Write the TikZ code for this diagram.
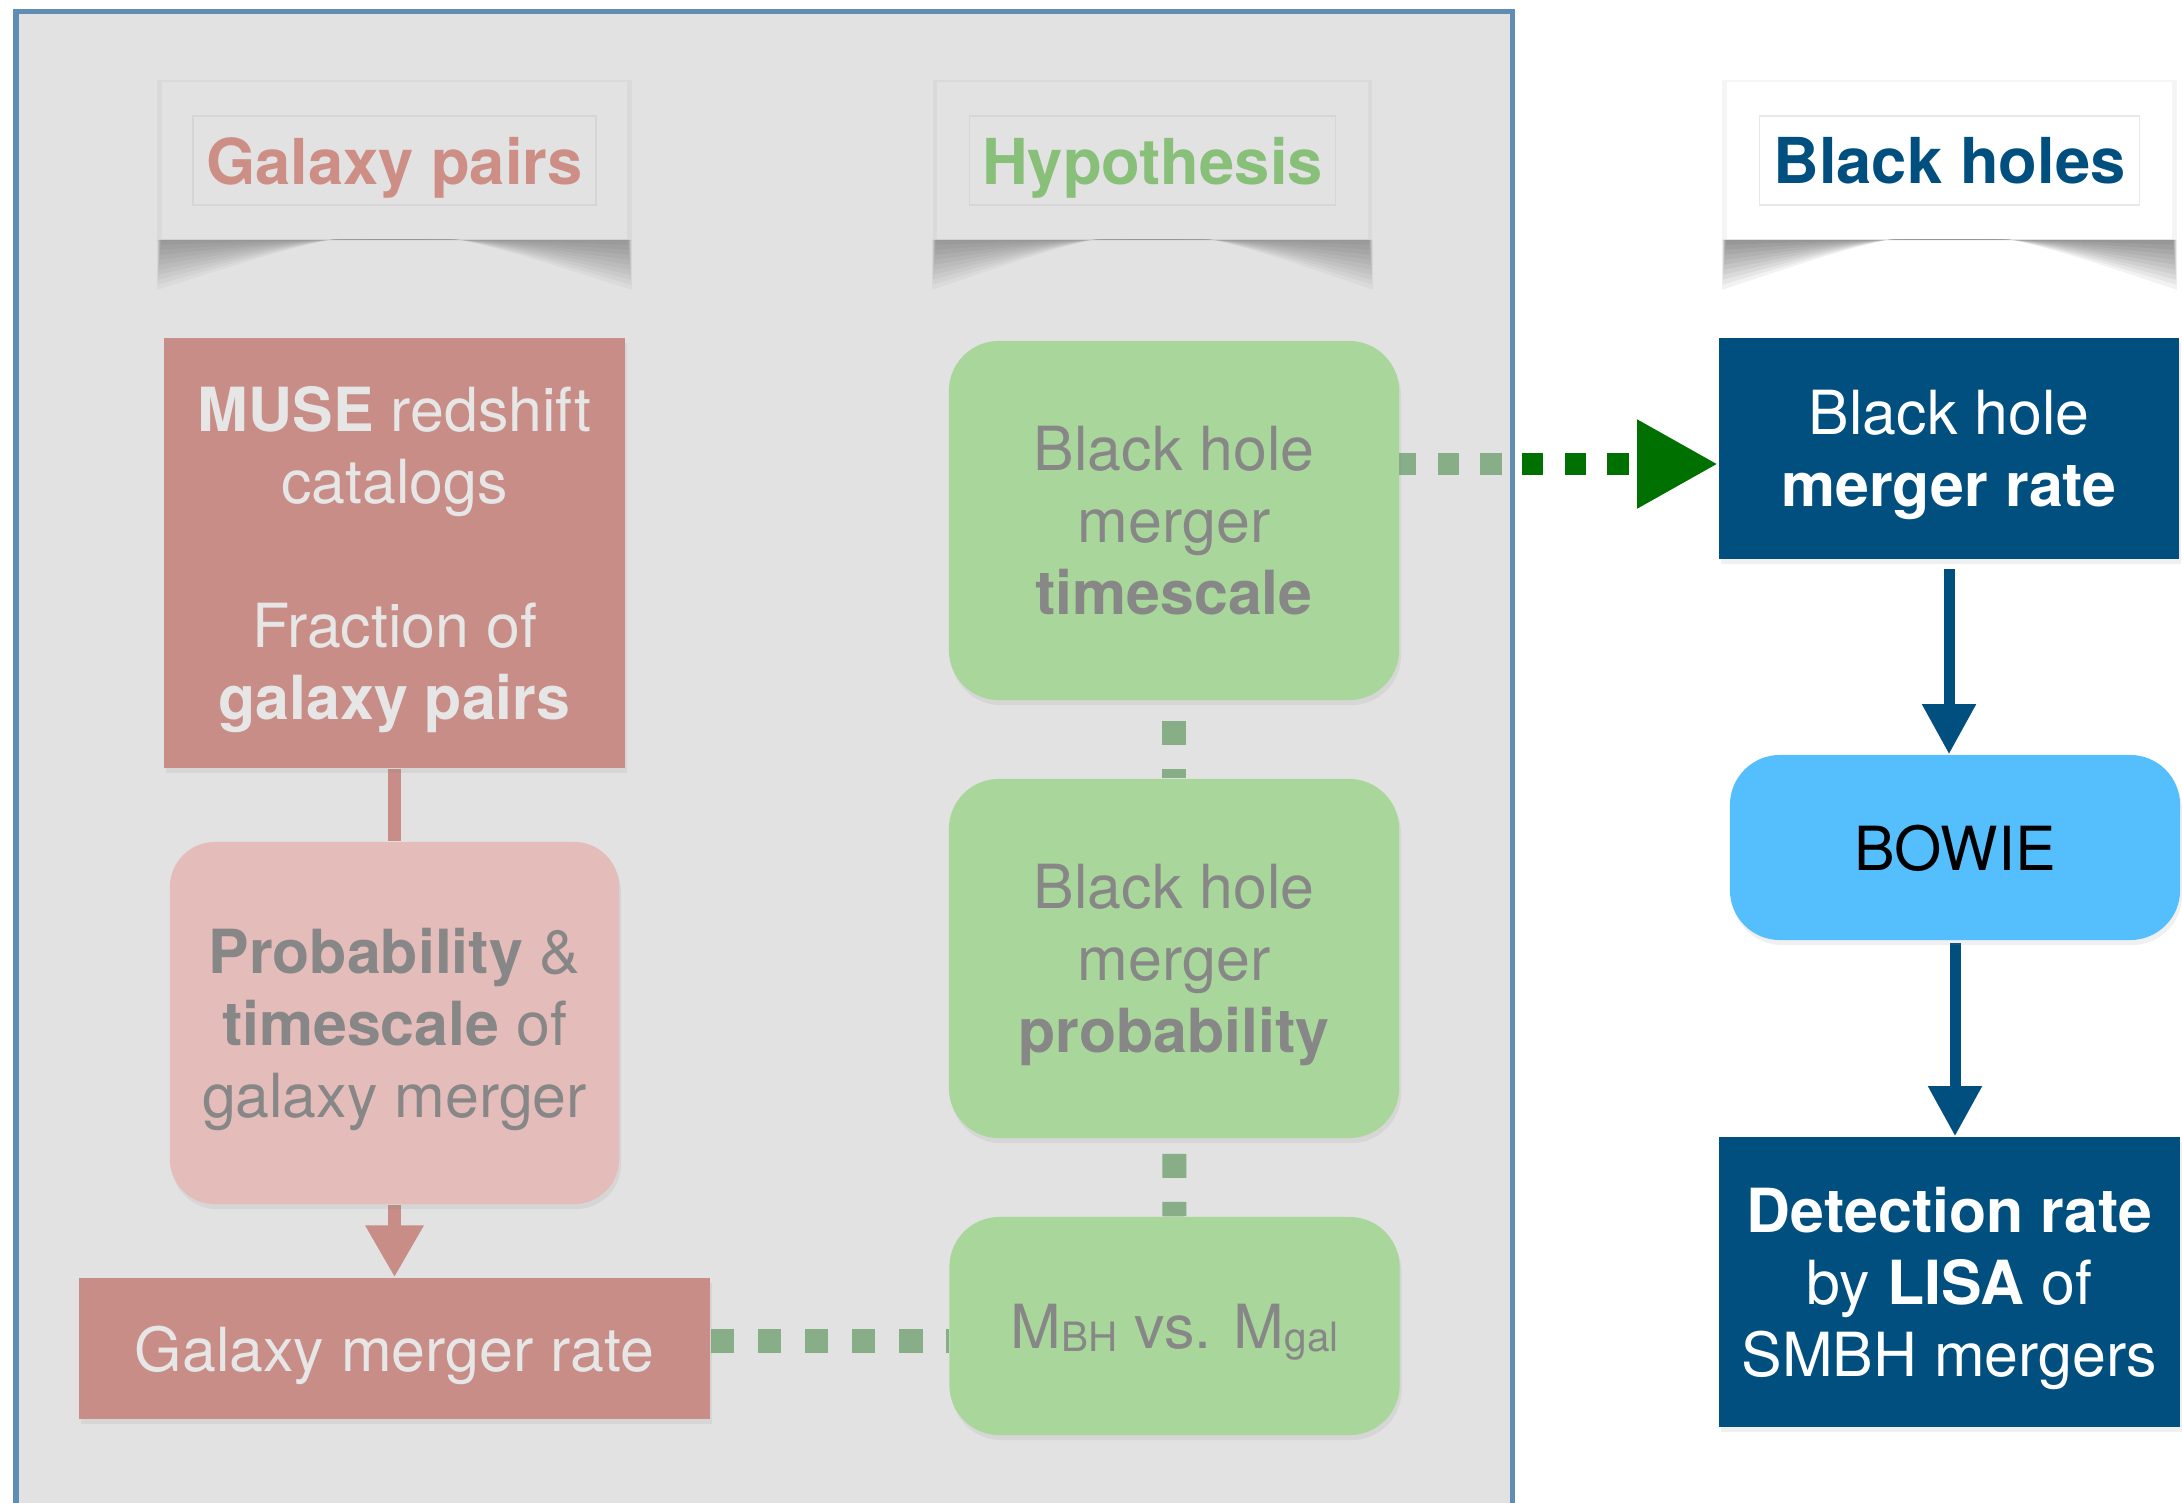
\documentclass[tikz,border=0pt]{standalone}
\usepackage{fontspec}
\setmainfont{TeX Gyre Heros}
\usetikzlibrary{positioning, arrows.meta, calc, shadows}

\definecolor{panelbg}{HTML}{E2E2E2}
\definecolor{panelrim}{HTML}{5F8DB3}
\definecolor{galred}{HTML}{C88D86}
\definecolor{galpink}{HTML}{E4BCBA}
\definecolor{galtitle}{HTML}{CD8E86}
\definecolor{hypgreen}{HTML}{A9D69A}
\definecolor{hyptitle}{HTML}{88BF79}
\definecolor{hypdot}{HTML}{87AE87}
\definecolor{darkgreen}{HTML}{007000}
\definecolor{bhblue}{HTML}{014F7F}
\definecolor{bowieblue}{HTML}{55BFFE}
\definecolor{fadetext}{HTML}{878787}
\definecolor{lighttext}{HTML}{E6E6E6}

\pgfdeclarelayer{back}
\pgfdeclarelayer{mid}
\pgfsetlayers{back,mid,main}

\newcommand{\bodyfont}{\fontsize{17.3}{20.5}\selectfont}
\newcommand{\headfont}{\fontsize{18}{22}\selectfont\bfseries}
\newcommand{\lowsub}[1]{\raisebox{-0.06em}{\fontsize{11.5}{12}\selectfont #1}}

\begin{document}
\begin{tikzpicture}[x=0.01cm, y=-0.01cm]
	% Define styles
	\tikzset{
		plate/.style={rectangle, inner sep=0pt, minimum height=1.57cm, fill=panelbg, drop shadow={shadow xshift=0pt, shadow yshift=0pt, shadow scale=1.02, opacity=0.08}},
		head/.style={rectangle, line width=0.015cm, inner sep=0pt, minimum height=0.89cm, font=\headfont, text depth=0pt},
		box/.style={rectangle, inner sep=0pt, align=center, font=\bodyfont, text depth=0pt, drop shadow={opacity=0.12, shadow xshift=0.02cm, shadow yshift=-0.05cm}},
		galbox/.style={box, fill=galred, text=lighttext},
		galround/.style={box, fill=galpink, text=fadetext, rounded corners=0.45cm},
		hypbox/.style={box, fill=hypgreen, text=fadetext, rounded corners=0.5cm, minimum width=4.5cm},
		bhbox/.style={box, fill=bhblue, text=white},
		bowiebox/.style={box, fill=bowieblue, text=black, rounded corners=0.5cm},
		galline/.style={draw=galred, line width=0.135cm},
		hypdots/.style={draw=hypdot, line width=0.24cm, dash pattern=on 0.24cm off 0.24cm},
		topdots/.style={line width=0.213cm, dash pattern=on 0.213cm off 0.214cm},
		bhline/.style={draw=bhblue, line width=0.11cm}
	}
	\useasboundingbox (0,0) rectangle (2182,1502);

	% Panel
	\begin{pgfonlayer}{back}
		\fill[panelbg] (16,11) rectangle (1512,1520);
		\draw[panelrim, line width=0.05cm] (16,1520) -- (16,11) -- (1512,11) -- (1512,1520);
	\end{pgfonlayer}

	% Headers
	\node[plate, minimum width=4.65cm] (galplate) at (394.5,160.5) {};
	\node[head, draw=black!16, text=galtitle, minimum width=4.03cm] (galhead) at (galplate) {Galaxy pairs};
	\node[plate, minimum width=4.31cm] (hypplate) at (1152.5,160.5) {};
	\node[head, draw=black!16, text=hyptitle, minimum width=3.66cm] (hyphead) at (hypplate) {Hypothesis};
	\node[plate, fill=white, minimum width=4.45cm] (bhplate) at (1949.5,160.5) {};
	\node[head, draw=black!9, text=bhblue, minimum width=3.8cm] (bhhead) at (bhplate) {Black holes};

	% Galaxy column
	\node[galbox, minimum width=4.61cm, minimum height=4.3cm] (muse) at (394.5,553) {\textbf{MUSE} redshift\\catalogs\\[20.5pt]Fraction of\\\textbf{galaxy pairs}};
	\node[galround, minimum width=4.49cm, minimum height=3.62cm] (galprob) at (394.5,1023) {\textbf{Probability} \&\\\textbf{timescale} of\\galaxy merger};
	\node[galbox, minimum width=6.31cm, minimum height=1.41cm] (galrate) at (394.5,1348.5) {Galaxy merger rate};

	% Hypothesis column
	\node[hypbox, minimum height=3.59cm] (bhtime) at (1174,520.5) {Black hole\\merger\\\textbf{timescale}};
	\node[hypbox, minimum height=3.59cm] (bhprob) at (1174,958.5) {Black hole\\merger\\\textbf{probability}};
	\node[hypbox, minimum height=2.18cm] (mbh) at (1174.5,1326) {M\lowsub{BH} vs. M\lowsub{gal}};

	% Black hole column
	\node[bhbox, minimum width=4.6cm, minimum height=2.21cm] (bhrate) at (1949,448.5) {Black hole\\\textbf{merger rate}};
	\node[bowiebox, minimum width=4.5cm, minimum height=1.85cm] (bowie) at (1955,847.5) {BOWIE};
	\node[bhbox, minimum width=4.61cm, minimum height=2.9cm] (detect) at (1949.5,1282) {\textbf{Detection rate}\\by \textbf{LISA} of\\SMBH mergers};

	\coordinate (cross) at (1512,464);

	% Shadows and arrows
	\begin{pgfonlayer}{mid}
		\foreach \p/\op in {galplate/0.035, hypplate/0.035, bhplate/0.05}
			\foreach \i in {1,...,10}
				\fill[black, opacity=\op]
					($(\p.south west)+(-0.4*\i,0)$) -- ($(\p.south west)+(-0.4*\i,5*\i)$)
					.. controls ($(\p.south)+(0,-2.6*\i)$) .. ($(\p.south east)+(0.4*\i,5*\i)$)
					-- ($(\p.south east)+(0.4*\i,0)$) -- cycle;

		\path[galline] (muse) -- (galprob);
		\path[galline, -{Triangle[width=0.55cm, length=0.52cm]}] (galprob) -- (galrate);

		\path[hypdots, dash phase=0.28cm] (bhtime) -- (bhprob);
		\path[hypdots, dash phase=0.33cm] (bhprob) -- (mbh);
		\path[hypdots, line width=0.235cm, dash pattern=on 0.235cm off 0.235cm] ([yshift=0.075cm]galrate.east) -- ([yshift=0.075cm]galrate.east -| mbh.west);

		\path[topdots, draw=hypdot] ([xshift=-0.05cm]bhtime.east |- cross) -- (cross);
		\path[topdots, draw=darkgreen, dash phase=0.327cm, -{Triangle[width=0.83cm, length=0.81cm]}] (cross) -- (cross -| bhrate.west);

		\path[bhline, shorten <=0.09cm, -{Triangle[width=0.51cm, length=0.5cm]}] (bhrate.south) -- (bhrate.south |- bowie.north);
		\path[bhline, shorten <=0.02cm, -{Triangle[width=0.51cm, length=0.5cm]}] (bowie.south) -- (bowie.south |- detect.north);
	\end{pgfonlayer}
\end{tikzpicture}
\end{document}
